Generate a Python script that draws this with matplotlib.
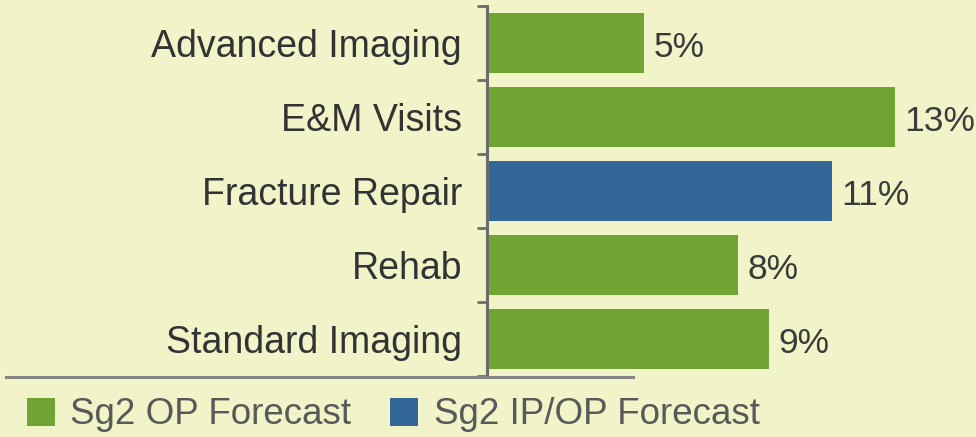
import matplotlib

matplotlib.use("Agg")
import matplotlib.pyplot as plt
from matplotlib.lines import Line2D
from matplotlib.patches import Patch

# data
categories = ["Advanced Imaging", "E&M Visits", "Fracture Repair", "Rehab", "Standard Imaging"]
values = [5, 13, 11, 8, 9]
series = ["op", "op", "ipop", "op", "op"]
series_labels = {"op": "Sg2 OP Forecast", "ipop": "Sg2 IP/OP Forecast"}

COLORS = {"op": "#72A433", "ipop": "#336699"}
BG = "#F0F4C8"

plt.rcParams["font.family"] = ["Liberation Sans", "DejaVu Sans"]

fig = plt.figure(figsize=(9.76, 4.37), dpi=100, facecolor=BG)
ax = fig.add_axes([0.499, 0.1396, 0.501, 0.8466])
ax.set_facecolor(BG)

pos = list(range(len(categories)))
ax.barh(pos, values, height=0.8, color=[COLORS[s] for s in series])
ax.set_ylim(len(categories) - 0.5, -0.5)
ax.set_xlim(0, 15.6)

for y, v in zip(pos, values):
    ax.text(v + 0.3, y + 0.06, f"{v}%", va="center", ha="left", fontsize=25.5, color="#3a3a3a")

ax.set_yticks(pos)
ax.set_yticklabels(categories, fontsize=27, color="#333333")
ax.tick_params(axis="y", which="major", length=0, pad=18)
ax.set_yticks([p - 0.5 for p in pos] + [len(pos) - 0.5], minor=True)
ax.tick_params(axis="y", which="minor", length=7, width=2, color="#6d6d6d")
ax.set_xticks([])

for name in ("top", "right", "bottom"):
    ax.spines[name].set_visible(False)
ax.spines["left"].set_color("#6d6d6d")
ax.spines["left"].set_linewidth(2.2)

# baseline under the category block
fig.add_artist(Line2D([6 / 976, 633 / 976], [1 - 377 / 437, 1 - 377 / 437],
                      color="#858585", linewidth=2.2))

handles = [Patch(facecolor=COLORS[k], edgecolor="none", label=series_labels[k]) for k in ("op", "ipop")]
leg = fig.legend(handles=handles, loc="center left", bbox_to_anchor=(27 / 976, 1 - 415 / 437),
                 ncol=2, frameon=False, fontsize=26.5, handlelength=0.76, handleheight=0.8,
                 handletextpad=0.42, columnspacing=1.05, borderaxespad=0, borderpad=0)
for t in leg.get_texts():
    t.set_color("#595959")

fig.savefig("out.png", dpi=100, facecolor=BG)
